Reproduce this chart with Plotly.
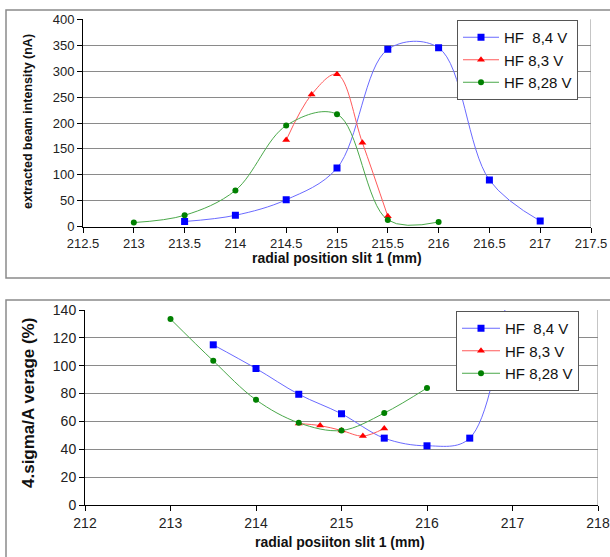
import plotly.graph_objects as go

# ---- data: top chart (extracted beam intensity) ----
x_84_top = [213.5, 214, 214.5, 215, 215.5, 216, 216.5, 217]
y_84_top = [10, 22, 52, 113, 342, 345, 90, 11]
x_83_top = [214.5, 214.75, 215, 215.25, 215.5]
y_83_top = [167, 255, 294, 162, 20]
x_828_top = [213, 213.5, 214, 214.5, 215, 215.5, 216]
y_828_top = [8, 22, 70, 195, 217, 13, 9]

# ---- data: bottom chart (4 sigma / average) ----
x_84_bot = [213.5, 214, 214.5, 215, 215.5, 216, 216.5, 217]
y_84_bot = [115, 98, 79.5, 65.5, 48, 42.5, 48, 185]
x_83_bot = [214.5, 214.75, 215, 215.25, 215.5]
y_83_bot = [58.5, 57, 53.5, 49.5, 55]
x_828_bot = [213, 213.5, 214, 214.5, 215, 215.5, 216]
y_828_bot = [133.5, 103.5, 75.5, 59, 53.5, 66, 84]

names = ["HF  8,4 V", "HF 8,3 V", "HF 8,28 V"]
line_cols = ["#6a6aff", "#ff5a5a", "#4aa84a"]
mk_cols = ["#0000ff", "#ff0000", "#008000"]
symbols = ["square", "triangle-up", "circle"]
msizes = [7, 7, 6]

W, H = 610, 557
FONT = "Liberation Sans, Arial, sans-serif"

fig = go.Figure()

top_sets = [(x_84_top, y_84_top), (x_83_top, y_83_top), (x_828_top, y_828_top)]
bot_sets = [(x_84_bot, y_84_bot), (x_83_bot, y_83_bot), (x_828_bot, y_828_bot)]

for i, (xs, ys) in enumerate(top_sets):
    fig.add_trace(go.Scatter(
        x=xs, y=ys, name=names[i], mode="lines+markers",
        line=dict(color=line_cols[i], width=1, shape="spline", smoothing=1),
        marker=dict(color=mk_cols[i], symbol=symbols[i], size=msizes[i]),
        xaxis="x", yaxis="y", legend="legend"))
for i, (xs, ys) in enumerate(bot_sets):
    fig.add_trace(go.Scatter(
        x=xs, y=ys, name=names[i], mode="lines+markers",
        line=dict(color=line_cols[i], width=1, shape="spline", smoothing=1),
        marker=dict(color=mk_cols[i], symbol=symbols[i], size=msizes[i]),
        xaxis="x2", yaxis="y2", legend="legend2"))

def px(x):
    return x / W

def py(y):
    return (H - y) / H

def axis_common(fs):
    return dict(
        showline=True, linecolor="#000000", linewidth=1,
        ticks="outside", ticklen=5, tickcolor="#000000",
        tickfont=dict(family=FONT, size=fs, color="#222222"),
        zeroline=False, automargin=False,
    )

title_font = dict(family=FONT, color="#111111")

fig.update_layout(
    width=W, height=H,
    margin=dict(l=0, r=0, t=0, b=0),
    paper_bgcolor="white", plot_bgcolor="white",
    showlegend=True,
    xaxis=dict(domain=[px(83), px(591)], range=[212.5, 217.5], dtick=0.5,
               tick0=212.5, showgrid=False, anchor="y", **axis_common(13)),
    yaxis=dict(domain=[py(226.7), py(19.3)], range=[0, 400], dtick=50,
               showgrid=True, gridcolor="#8a8a8a", gridwidth=1, anchor="x",
               **axis_common(13)),
    xaxis2=dict(domain=[px(85), px(598)], range=[212, 218], dtick=1,
                showgrid=False, anchor="y2", **axis_common(14)),
    yaxis2=dict(domain=[py(505), py(310)], range=[0, 140], dtick=20,
                showgrid=True, gridcolor="#8a8a8a", gridwidth=1, anchor="x2",
                **axis_common(14)),
    legend=dict(x=px(457), y=py(20), xanchor="left", yanchor="top",
                bgcolor="white", bordercolor="#555555", borderwidth=1,
                font=dict(family=FONT, size=15, color="#111111"),
                tracegroupgap=0, itemwidth=36),
    legend2=dict(x=px(456), y=py(311), xanchor="left", yanchor="top",
                 bgcolor="white", bordercolor="#555555", borderwidth=1,
                 font=dict(family=FONT, size=15, color="#111111"),
                 tracegroupgap=0, itemwidth=38),
    annotations=[
        dict(text="<b>radial position slit 1 (mm)</b>", xref="paper", yref="paper",
             x=px(337), y=py(258), xanchor="center", yanchor="middle",
             showarrow=False, font=dict(size=14, **title_font)),
        dict(text="<b>extracted beam intensity (nA)</b>", xref="paper", yref="paper",
             x=px(28), y=py(122), xanchor="center", yanchor="middle", textangle=-90,
             showarrow=False, font=dict(size=12.5, **title_font)),
        dict(text="<b>radial posiiton slit 1 (mm)</b>", xref="paper", yref="paper",
             x=px(340), y=py(542), xanchor="center", yanchor="middle",
             showarrow=False, font=dict(size=14, **title_font)),
        dict(text="<b>4.sigma/A verage (%)</b>", xref="paper", yref="paper",
             x=px(28), y=py(403), xanchor="center", yanchor="middle", textangle=-90,
             showarrow=False, font=dict(size=17, **title_font)),
    ],
    shapes=[
        # outer chart frames
        dict(type="rect", xref="paper", yref="paper",
             x0=px(6), x1=1.02, y0=py(278), y1=py(10),
             line=dict(color="#8a8a8a", width=1.5), layer="below"),
        dict(type="rect", xref="paper", yref="paper",
             x0=px(6), x1=1.02, y0=-0.05, y1=py(300),
             line=dict(color="#8a8a8a", width=1.5), layer="below"),
        # right border of plot areas
        dict(type="line", xref="x", yref="y domain", x0=217.5, x1=217.5,
             y0=0, y1=1, line=dict(color="#8a8a8a", width=1)),
        dict(type="line", xref="x2", yref="y2 domain", x0=218, x1=218,
             y0=0, y1=1, line=dict(color="#8a8a8a", width=1)),
    ],
)

fig.write_html("out.html", config={"displayModeBar": False},
               post_script="document.body.style.margin='0';document.body.style.overflow='hidden';")
